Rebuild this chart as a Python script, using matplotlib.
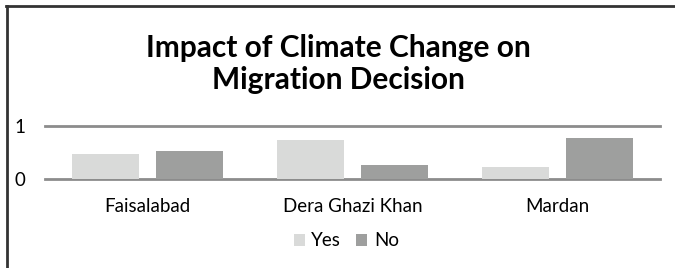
import matplotlib
matplotlib.use("Agg")
import matplotlib.pyplot as plt
from matplotlib.lines import Line2D
import numpy as np

plt.rcParams["font.family"] = ["Lato", "DejaVu Sans"]

# data
cities = ["Faisalabad", "Dera Ghazi Khan", "Mardan"]
yes_share = [0.47, 0.74, 0.23]
no_share = [0.53, 0.26, 0.77]
title = "Impact of Climate Change on\nMigration Decision"

yes_colour = "#d9dad9"
no_colour = "#9e9f9e"

fig = plt.figure(figsize=(6.75, 2.68), dpi=100)
ax = fig.add_axes([45 / 675, 89 / 268, 615 / 675, 53 / 268])

x = np.arange(len(cities))
w = 0.33
ax.bar(x - 0.205, yes_share, w, color=yes_colour, label="Yes", zorder=2)
ax.bar(x + 0.205, no_share, w, color=no_colour, label="No", zorder=2)

ax.set_xlim(-0.5, len(cities) - 0.5)
ax.set_ylim(0, 1)
ax.set_yticks([0, 1])
ax.set_xticks(x)
ax.set_xticklabels(cities, fontsize=13.5)
ax.tick_params(axis="y", labelsize=13.5, length=0, pad=14)
ax.tick_params(axis="x", length=0, pad=14)
for s in ax.spines.values():
    s.set_visible(False)
for yv in [0, 1]:
    ax.axhline(yv, color="#8c8c8c", lw=2, zorder=1, clip_on=False)

fig.text(0.502, 1 - 64 / 268, title, ha="center", va="center", fontsize=21.5,
         fontweight="bold", linespacing=1.2)

fig.legend(loc="center", bbox_to_anchor=(0.513, 1 - 241 / 268), ncol=2, frameon=False,
           fontsize=13.5, handlelength=0.6, handleheight=0.6, handletextpad=0.35,
           columnspacing=0.8)

# outer frame (top and left edges only visible)
fig.add_artist(Line2D([6 / 675, 1], [1 - 6 / 268, 1 - 6 / 268], color="#333333", lw=2))
fig.add_artist(Line2D([7 / 675, 7 / 675], [0, 1 - 6 / 268], color="#333333", lw=2))

fig.savefig("out.png", dpi=100, facecolor="white")
